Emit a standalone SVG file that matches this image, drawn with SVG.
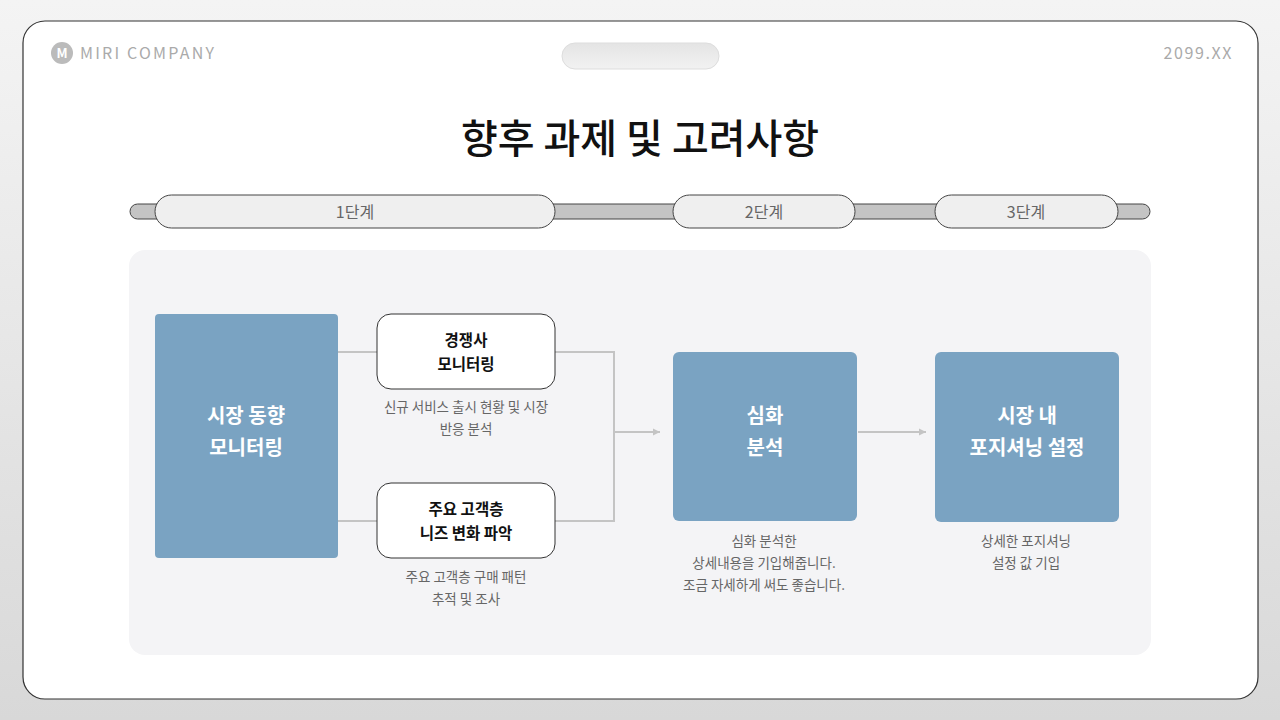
<svg xmlns="http://www.w3.org/2000/svg" width="1280" height="720" viewBox="0 0 1280 720">
<defs>
<linearGradient id="bg" x1="0" y1="0" x2="0" y2="1"><stop offset="0" stop-color="#f4f4f4"/><stop offset="1" stop-color="#d8d8d8"/></linearGradient>
<linearGradient id="pill" x1="0" y1="0" x2="0" y2="1"><stop offset="0" stop-color="#e4e4e4"/><stop offset="1" stop-color="#f2f2f2"/></linearGradient>
<marker id="ar" markerWidth="8" markerHeight="8" refX="7" refY="4" orient="auto" markerUnits="userSpaceOnUse"><path d="M0,0.5 L7,4 L0,7.5 z" fill="#c4c4c4"/></marker>
<style>
text{font-family:"Noto Sans CJK KR","Noto Sans",sans-serif}
.stage{fill:#efefef;stroke:#444;stroke-width:1}
.stl{font-size:16px;fill:#666;text-anchor:middle}
.blue{fill:#7aa3c2}
.bt{font-size:20px;font-weight:700;fill:#fff;text-anchor:middle}
.wb{fill:#fff;stroke:#333;stroke-width:1}
.wt{font-size:15.5px;font-weight:700;fill:#111;text-anchor:middle}
.ds{font-size:13.5px;fill:#666;text-anchor:middle}
.ln{fill:none;stroke:#c4c4c4;stroke-width:2}
</style>
</defs>
<rect width="1280" height="720" fill="url(#bg)"/>
<rect x="23" y="21" width="1235" height="678" rx="22" fill="#fff" stroke="#333" stroke-width="1.2"/>
<rect x="562" y="43" width="157" height="26" rx="13" fill="url(#pill)" stroke="#ddd"/>
<circle cx="62" cy="53" r="11" fill="#bbb"/>
<text x="62" y="58" font-size="13" font-weight="700" fill="#fff" text-anchor="middle" font-family="Liberation Sans">M</text>
<text x="80" y="59" font-size="16" fill="#aaa" letter-spacing="2.2" font-family="Noto Sans">MIRI COMPANY</text>
<text x="1233" y="59" font-size="16" fill="#aaa" letter-spacing="1.6" text-anchor="end" font-family="Noto Sans">2099.XX</text>
<text x="640" y="153" font-size="40" font-weight="500" fill="#111" text-anchor="middle">향후 과제 및 고려사항</text>
<rect x="130" y="204" width="1020" height="15" rx="7.5" fill="#c4c4c4" stroke="#444"/>
<g id="stage1"><rect class="stage" x="155" y="195" width="400" height="33" rx="16.5"/><text class="stl" x="355" y="218">1단계</text></g>
<g id="stage2"><rect class="stage" x="673" y="195" width="182" height="33" rx="16.5"/><text class="stl" x="764" y="218">2단계</text></g>
<g id="stage3"><rect class="stage" x="935" y="195" width="183" height="33" rx="16.5"/><text class="stl" x="1026" y="218">3단계</text></g>
<rect x="129" y="250" width="1022" height="405" rx="16" fill="#f4f4f6"/>
<g id="connectors">
<path class="ln" d="M338,352 H378 M338,521 H378 M555,352 H614 V521 H555 M614,432 H660" marker-end="url(#ar)"/>
<path class="ln" d="M858,432 H926" marker-end="url(#ar)"/>
</g>
<g id="n1"><rect class="blue" x="155" y="314" width="183" height="244" rx="4"/><text class="bt" x="246" y="423">시장 동향</text><text class="bt" x="246" y="455">모니터링</text></g>
<g id="n2"><rect class="wb" x="377" y="314" width="178" height="75" rx="14"/><text class="wt" x="466" y="346">경쟁사</text><text class="wt" x="466" y="370">모니터링</text>
<text class="ds" x="466" y="412">신규 서비스 출시 현황 및 시장</text><text class="ds" x="466" y="434">반응 분석</text></g>
<g id="n3"><rect class="wb" x="377" y="483" width="178" height="75" rx="14"/><text class="wt" x="466" y="515">주요 고객층</text><text class="wt" x="466" y="539">니즈 변화 파악</text>
<text class="ds" x="466" y="582">주요 고객층 구매 패턴</text><text class="ds" x="466" y="604">추적 및 조사</text></g>
<g id="n4"><rect class="blue" x="673" y="352" width="184" height="169" rx="6"/><text class="bt" x="765" y="423">심화</text><text class="bt" x="765" y="455">분석</text>
<text class="ds" x="764" y="546">심화 분석한</text><text class="ds" x="764" y="568">상세내용을 기입해줍니다.</text><text class="ds" x="764" y="590">조금 자세하게 써도 좋습니다.</text></g>
<g id="n5"><rect class="blue" x="935" y="352" width="184" height="170" rx="6"/><text class="bt" x="1027" y="423">시장 내</text><text class="bt" x="1027" y="455">포지셔닝 설정</text>
<text class="ds" x="1026" y="546">상세한 포지셔닝</text><text class="ds" x="1026" y="568">설정 값 기입</text></g>
</svg>
